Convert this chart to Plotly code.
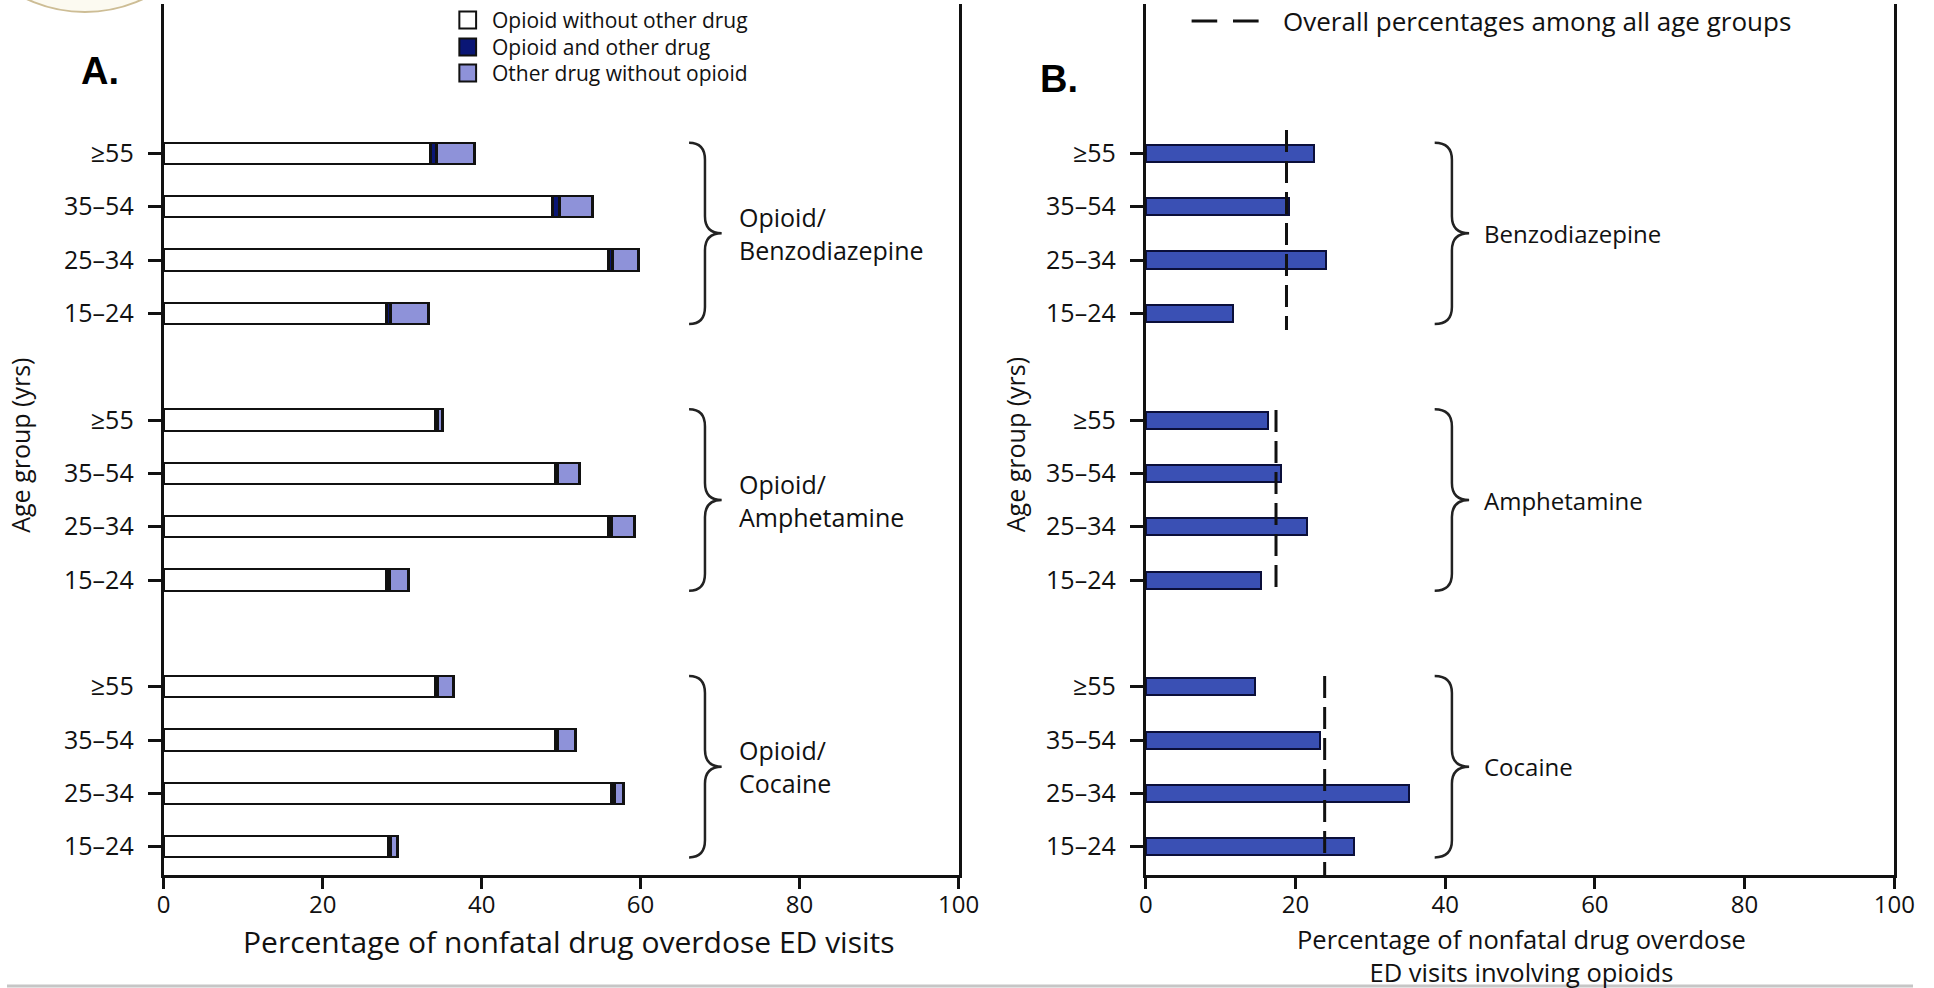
import plotly.graph_objects as go

# ---------------- data ----------------
age_groups = ["≥55", "35–54", "25–34", "15–24"]
drug_groups = ["Benzodiazepine", "Amphetamine", "Cocaine"]

# Panel A: percentage of nonfatal drug overdose ED visits (stacked)
opioid_without_other = {
    "Benzodiazepine": [33.6, 49.0, 56.0, 28.0],
    "Amphetamine":    [34.2, 49.3, 56.0, 28.1],
    "Cocaine":        [34.2, 49.3, 56.4, 28.3],
}
opioid_and_other = {
    "Benzodiazepine": [0.8, 0.8, 0.5, 0.6],
    "Amphetamine":    [0.3, 0.3, 0.4, 0.3],
    "Cocaine":        [0.3, 0.3, 0.3, 0.3],
}
other_without_opioid = {
    "Benzodiazepine": [4.7, 4.2, 3.2, 4.7],
    "Amphetamine":    [0.6, 2.8, 2.9, 2.4],
    "Cocaine":        [2.0, 2.2, 1.2, 0.8],
}

# Panel B: percentage of opioid-involved visits that also involve the drug
involving_opioids = {
    "Benzodiazepine": [22.5, 19.1, 24.0, 11.6],
    "Amphetamine":    [16.3, 18.0, 21.5, 15.4],
    "Cocaine":        [14.5, 23.2, 35.1, 27.8],
}
overall_pct = {"Benzodiazepine": 18.8, "Amphetamine": 17.4, "Cocaine": 23.9}

x_ticks = [0, 20, 40, 60, 80, 100]

# ---------------- layout helpers ----------------
W, H = 1934, 988
FONT = "Open Sans"
INK = "#111111"


def px_x(px):
    return px / W


def px_y(py):
    return (H - py) / H


GROUP_STEP = 5  # four bars plus one empty slot between drug groups
positions = [g * GROUP_STEP + i for g in range(len(drug_groups)) for i in range(len(age_groups))]
tick_text = age_groups * len(drug_groups)


def flat(d):
    return [v for g in drug_groups for v in d[g]]


fig = go.Figure()

# Panel A stacked bars
seg_styles = [
    ("Opioid without other drug", opioid_without_other, "#ffffff"),
    ("Opioid and other drug", opioid_and_other, "#0a1675"),
    ("Other drug without opioid", other_without_opioid, "#8e92d9"),
]
for name, d, color in seg_styles:
    fig.add_trace(go.Bar(
        name=name, x=flat(d), y=positions, orientation="h", width=0.4,
        marker=dict(color=color, line=dict(color=INK, width=2.5)),
        xaxis="x", yaxis="y", showlegend=False,
    ))

# Panel B bars
fig.add_trace(go.Bar(
    name="Involving opioids", x=flat(involving_opioids), y=positions, orientation="h", width=0.32,
    marker=dict(color="#3a50b4", line=dict(color="#0b0f3a", width=2)),
    xaxis="x2", yaxis="y2", showlegend=False,
))

# Overall percentage reference lines (one per drug group)
dash_span = {"Benzodiazepine": (-0.44, 3.31), "Amphetamine": (-0.19, 3.19), "Cocaine": (-0.2, 3.53)}
for g, drug in enumerate(drug_groups):
    lo, hi = dash_span[drug]
    fig.add_trace(go.Scatter(
        x=[overall_pct[drug]] * 2, y=[g * GROUP_STEP + lo, g * GROUP_STEP + hi],
        mode="lines", line=dict(color=INK, width=3, dash="22px,9px"),
        xaxis="x2", yaxis="y2", showlegend=False, cliponaxis=False, hoverinfo="skip",
    ))

y_range = [13.53, -2.80]
y_domain = [px_y(875), px_y(4)]

axis_common = dict(
    range=[0, 100], tickvals=x_ticks, showline=True, linewidth=3, linecolor=INK,
    ticks="outside", ticklen=11, tickwidth=2.5, tickcolor=INK, showgrid=False, zeroline=False,
    tickfont=dict(size=24, color=INK, family=FONT), ticklabelstandoff=-5,
)
yaxis_common = dict(
    range=y_range, domain=y_domain, tickvals=positions, ticktext=tick_text,
    showline=True, mirror=True, linewidth=3, linecolor=INK,
    ticks="outside", ticklen=13, tickwidth=3, tickcolor=INK, showgrid=False, zeroline=False,
    tickfont=dict(size=25, color=INK, family=FONT), ticklabelstandoff=9,
)

fig.update_layout(
    width=W, height=H, margin=dict(l=0, r=0, t=0, b=0),
    paper_bgcolor="white", plot_bgcolor="white", barmode="stack", bargap=0,
    font=dict(family=FONT, color=INK),
    xaxis=dict(domain=[px_x(159), px_x(965.5)], anchor="y", **axis_common),
    yaxis=dict(anchor="x", **yaxis_common),
    xaxis2=dict(domain=[px_x(1155.5), px_x(1915)], anchor="y2", **axis_common),
    yaxis2=dict(anchor="x2", **yaxis_common),
)

shapes = []
annotations = []


def label(x, y, text, size, xref="paper", yref="paper", xanchor="left", align="left", **kw):
    annotations.append(dict(x=x, y=y, xref=xref, yref=yref, text=text, showarrow=False,
                            xanchor=xanchor, yanchor="middle", align=align, borderpad=0,
                            font=dict(size=size, color=kw.pop("color", INK),
                                      family=kw.pop("family", FONT)), **kw))


# Curly braces around each drug group
def brace_path(x0, xs, xt, top, mid, bot, r=0.32):
    return (f"M{x0},{top} Q{xs},{top} {xs},{top + r} L{xs},{mid - r} "
            f"Q{xs},{mid} {xt},{mid} Q{xs},{mid} {xs},{mid + r} "
            f"L{xs},{bot - r} Q{xs},{bot} {x0},{bot}")


panel_cfg = [
    ("x", "y", (66.1, 68.1, 70.2), 72.2, True, 25),
    ("x2", "y2", (38.6, 40.9, 43.2), 45.0, False, 24),
]
for xref, yref, (bx0, bxs, bxt), label_x, with_prefix, fsize in panel_cfg:
    for g, drug in enumerate(drug_groups):
        top, bot = g * GROUP_STEP - 0.2, g * GROUP_STEP + 3.2
        mid = g * GROUP_STEP + 1.5
        shapes.append(dict(type="path", xref=xref, yref=yref,
                           path=brace_path(bx0, bxs, bxt, top, mid, bot),
                           line=dict(color="#222222", width=2.5)))
        text = f"Opioid/<br>{drug}" if with_prefix else drug
        label(label_x, mid, text, fsize, xref=xref, yref=yref)

# Panel A legend
legend_rows = [(20, "#ffffff", "Opioid without other drug"),
               (47, "#0a1675", "Opioid and other drug"),
               (73, "#8e92d9", "Other drug without opioid")]
for yc, color, text in legend_rows:
    shapes.append(dict(type="rect", xref="paper", yref="paper",
                       x0=px_x(459), x1=px_x(476), y0=px_y(yc + 8.5), y1=px_y(yc - 8.5),
                       fillcolor=color, line=dict(color=INK, width=2)))
    label(px_x(491), px_y(yc), text, 21)

# Panel B legend
for xa, xb in [(1202, 1228), (1244, 1270)]:
    shapes.append(dict(type="line", xref="paper", yref="paper",
                       x0=px_x(xa), x1=px_x(xb), y0=px_y(21), y1=px_y(21),
                       line=dict(color=INK, width=3)))
label(px_x(1294), px_y(21), "Overall percentages among all age groups", 26)

# Panel letters
label(px_x(74), px_y(71), "<b>A.</b>", 38, color="#000000", family="Liberation Sans")
label(px_x(1047), px_y(79), "<b>B.</b>", 38, color="#000000", family="Liberation Sans")

# Axis titles
for xc in (13, 1023):
    label(px_x(xc), px_y(445), "Age group (yrs)", 25, xanchor="center", textangle=-90)
label(px_x(570), px_y(941), "Percentage of nonfatal drug overdose ED visits", 30, xanchor="center")
label(px_x(1537), px_y(955), "Percentage of nonfatal drug overdose<br>ED visits involving opioids",
      25.5, xanchor="center", align="center")

# Seal partly visible at the top-left corner
shapes.append(dict(type="circle", xref="paper", yref="paper",
                   x0=px_x(79 - 141), x1=px_x(79 + 141), y0=px_y(12), y1=px_y(12 - 282),
                   fillcolor="#fcfaf1", line=dict(color="#cdbd95", width=2), layer="below"))

# Rule along the bottom edge
shapes.append(dict(type="line", xref="paper", yref="paper", x0=0, x1=1,
                   y0=px_y(986), y1=px_y(986), line=dict(color="#c6c6c6", width=3)))

fig.update_layout(shapes=shapes, annotations=annotations)
fig.write_html("out.html")
